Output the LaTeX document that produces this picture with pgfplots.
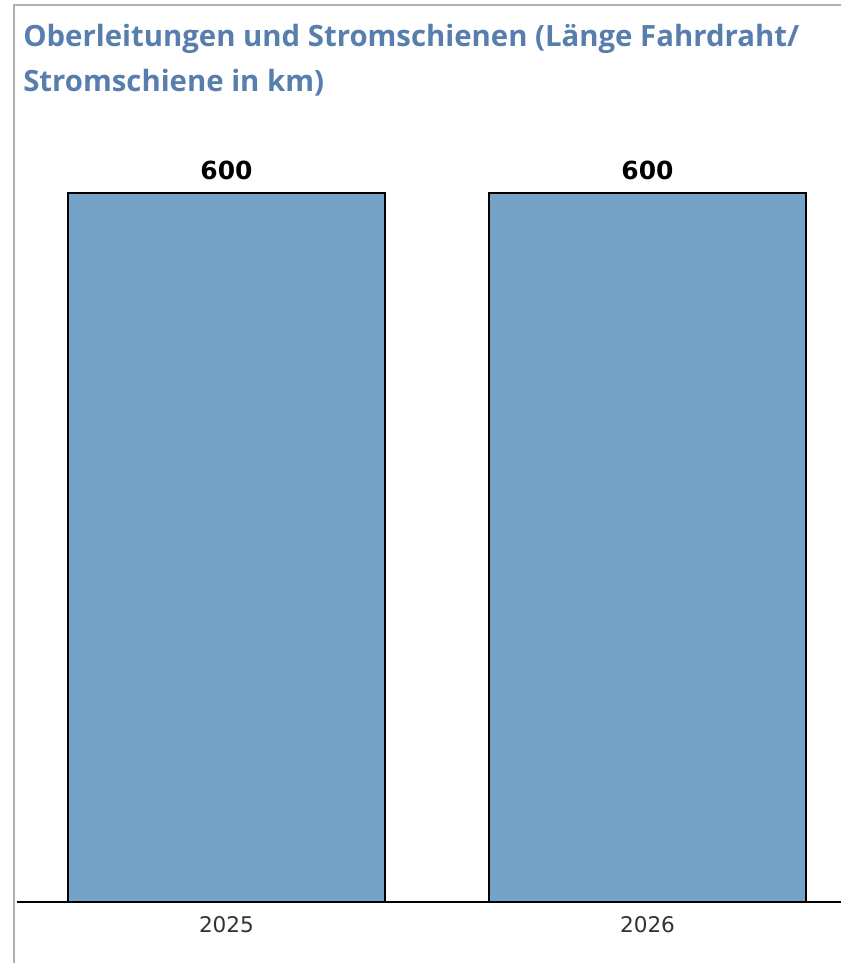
\documentclass[border=0pt]{standalone}
\usepackage{pgfplots}
\pgfplotsset{compat=1.18}
\usepackage{fontspec}
\setmainfont{Open Sans}
\newfontfamily\dejavu{DejaVu Sans}
\definecolor{titleblue}{RGB}{88,126,174}
\definecolor{barblue}{RGB}{117,162,199}
\definecolor{framegray}{RGB}{176,176,176}
\definecolor{ticktext}{RGB}{51,51,51}
\begin{document}
\begin{tikzpicture}
\useasboundingbox (0pt,0pt) rectangle (630.75pt,722.25pt);
% frame
\draw[framegray, line width=1.5pt] (10.5pt,0pt) -- (10.5pt,718.5pt) -- (630.75pt,718.5pt);
% title
\node[anchor=base west, inner sep=0, align=left, text=titleblue,
      font=\fontsize{22}{33.75}\selectfont\bfseries] at (17.25pt,653.25pt)
  {Oberleitungen und Stromschienen (Länge Fahrdraht/\\Stromschiene in km)};
\begin{axis}[
  at={(12.75pt,45.75pt)}, anchor=south west,
  scale only axis,
  width=618pt, height=531.75pt,
  xmin=-0.4976, xmax=1.4596,
  ymin=0, ymax=600,
  axis y line=none,
  axis x line*=bottom,
  x axis line style={black, line width=1.5pt, -},
  xtick={0,1},
  xticklabels={2025,2026},
  major tick length=0pt,
  /pgf/number format/assume math mode=true,
  xticklabel style={anchor=base, yshift=-23pt, inner sep=0, text=ticktext,
     font=\dejavu\fontsize{16.2}{18}\selectfont},
  ybar,
  bar width=0.753,
  clip=false,
  nodes near coords,
  nodes near coords style={anchor=base, yshift=9.75pt, inner sep=0,
     font=\dejavu\fontsize{18.7}{22}\selectfont\bfseries, text=black},
]
\addplot[fill=barblue, draw=black, line width=0.9pt] coordinates {(0,600) (1,600)};
\end{axis}
\end{tikzpicture}
\end{document}
